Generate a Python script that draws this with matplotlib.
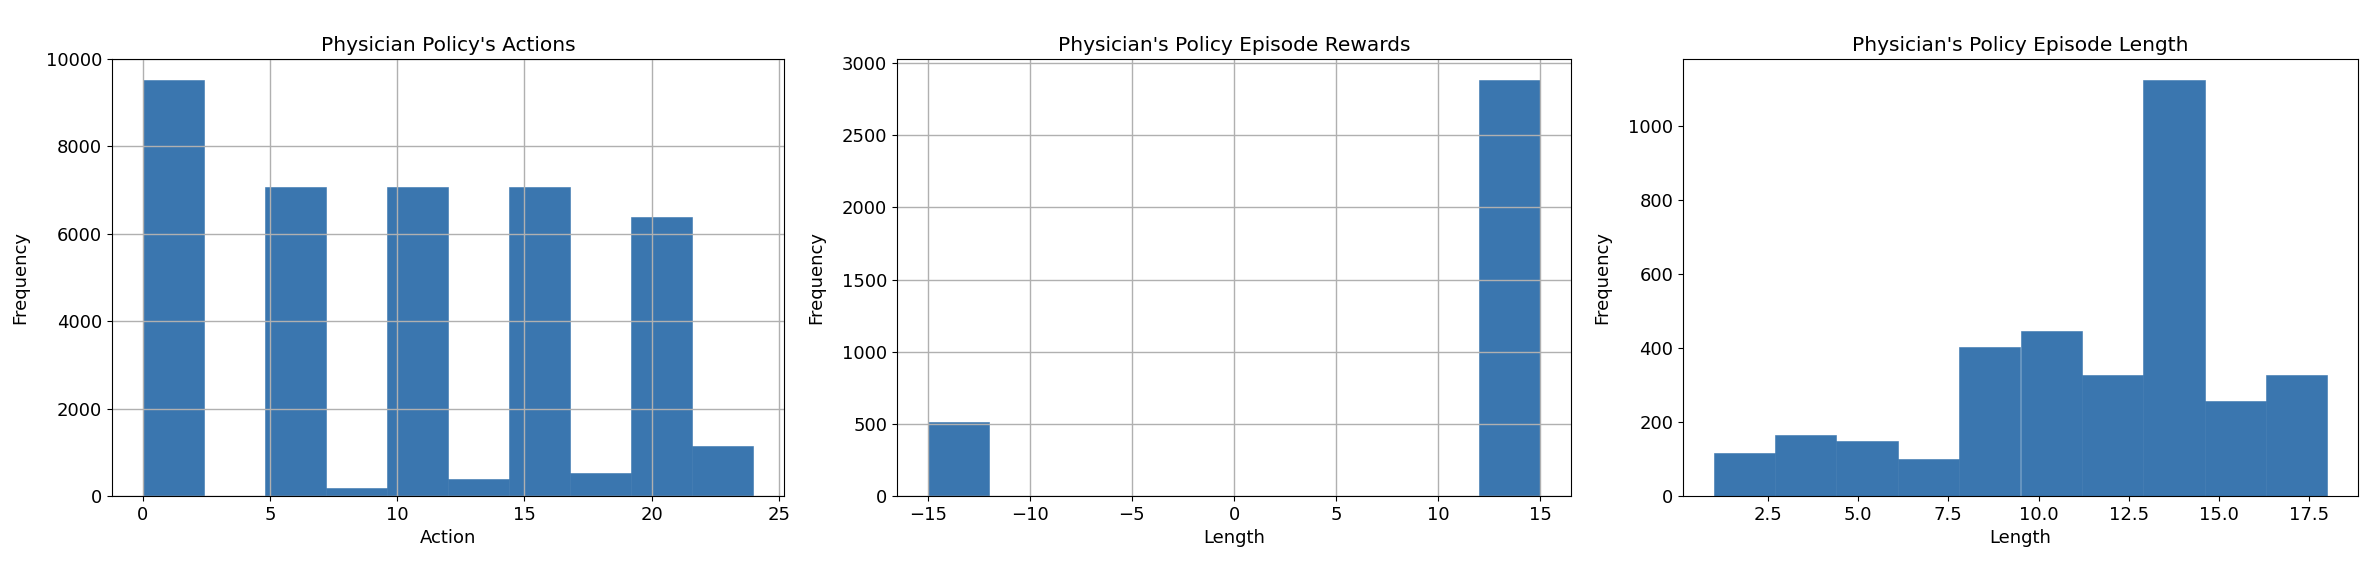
import numpy as np
import matplotlib
matplotlib.use("Agg")
import matplotlib.pyplot as plt

# histogram bin edges and counts
action_edges = np.linspace(0, 24, 11)
action_counts = [9510, 0, 7070, 190, 7070, 380, 7070, 520, 6380, 1150]

reward_edges = np.linspace(-15, 15, 11)
reward_counts = [515, 0, 0, 0, 0, 0, 0, 0, 0, 2885]

length_edges = np.linspace(1, 18, 11)
length_counts = [116, 165, 148, 99, 403, 447, 328, 1126, 256, 328]

bar_color = "#3a76af"

fig = plt.figure(figsize=(23.68, 5.74), dpi=100)
ax1 = fig.add_axes([112 / 2368, 78 / 574, 672 / 2368, 437 / 574])
ax2 = fig.add_axes([897 / 2368, 78 / 574, 674 / 2368, 437 / 574])
ax3 = fig.add_axes([1683 / 2368, 78 / 574, 675 / 2368, 437 / 574])

hist_style = dict(color=bar_color, edgecolor=bar_color, linewidth=0.4)

# Actions
ax1.hist(action_edges[:-1], bins=action_edges, weights=action_counts, **hist_style)
ax1.set_ylim(0, 10000)
ax1.set_xticks([0, 5, 10, 15, 20, 25])
ax1.grid(True, color="#b0b0b0", linewidth=1.0)
ax1.set_title("Physician Policy's Actions", fontsize=14.5)
ax1.set_xlabel("Action", fontsize=13)
ax1.set_ylabel("Frequency", fontsize=13, labelpad=12)

# Rewards
ax2.hist(reward_edges[:-1], bins=reward_edges, weights=reward_counts, **hist_style)
ax2.set_ylim(0, max(reward_counts) * 1.05)
ax2.grid(True, color="#b0b0b0", linewidth=1.0)
ax2.set_title("Physician's Policy Episode Rewards", fontsize=14.5)
ax2.set_xlabel("Length", fontsize=13)
ax2.set_ylabel("Frequency", fontsize=13, labelpad=12)

# Lengths
ax3.hist(length_edges[:-1], bins=length_edges, weights=length_counts, **hist_style)
ax3.set_ylim(0, max(length_counts) * 1.05)
ax3.set_title("Physician's Policy Episode Length", fontsize=14.5)
ax3.set_xlabel("Length", fontsize=13)
ax3.set_ylabel("Frequency", fontsize=13, labelpad=12)

for ax in (ax1, ax2, ax3):
    ax.tick_params(axis="both", which="major", labelsize=13)

fig.savefig("out.png", dpi=100)
